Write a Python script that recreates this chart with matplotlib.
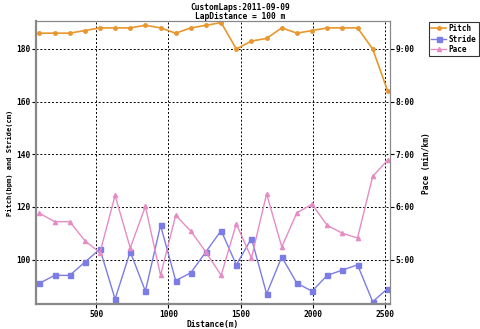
import numpy as np
import matplotlib
matplotlib.use('Agg')
import matplotlib.pyplot as plt

# lap data (24 laps of ~105 m)
distance = [106, 211, 316, 420, 525, 630, 735, 840, 945, 1050, 1155, 1260,
            1365, 1470, 1575, 1680, 1785, 1890, 1995, 2100, 2205, 2310, 2415, 2519]
pitch = [186, 186, 186, 187, 188, 188, 188, 189, 188, 186, 188, 189,
         190, 180, 183, 184, 188, 186, 187, 188, 188, 188, 180, 164]
stride = [91, 94, 94, 99, 104, 85, 103, 88, 113, 92, 95, 103,
          111, 98, 108, 87, 101, 91, 88, 94, 96, 98, 84, 89]
# pace in min/km (decimal minutes)
pace = [5.88, 5.72, 5.72, 5.36, 5.13, 6.22, 5.22, 6.01, 4.70, 5.84, 5.54, 5.14,
        4.70, 5.68, 5.03, 6.25, 5.24, 5.89, 6.05, 5.65, 5.50, 5.41, 6.58, 6.89]

left_ticks = [100, 120, 140, 160, 180]
pace_ticks = [5, 6, 7, 8, 9]
pace_labels = ['5:00', '6:00', '7:00', '8:00', '9:00']
x_ticks = [500, 1000, 1500, 2000, 2500]

font = {'family': 'DejaVu Sans Mono', 'weight': 'bold'}
c_pitch = '#e8962e'
c_stride = '#7c7ce6'
c_pace = '#e68cc4'

fig = plt.figure(figsize=(4.8, 3.29), dpi=100)
ax = fig.add_axes([0.075, 0.075, 0.7375, 0.861])
ax2 = ax.twinx()

# left axis: pitch & stride
l1, = ax.plot(distance, pitch, color=c_pitch, marker='o', markersize=2.5, linewidth=1.2, label='Pitch')
l2, = ax.plot(distance, stride, color=c_stride, marker='s', markersize=3.6, linewidth=1.0, label='Stride')
# right axis: pace, scaled so 5:00 lines up with 100 and 9:00 with 180
ylo, yhi = 83, 190.6
ax.set_ylim(ylo, yhi)
ax2.set_ylim(5 + (ylo - 100) / 20, 5 + (yhi - 100) / 20)
l3, = ax2.plot(distance, pace, color=c_pace, marker='^', markersize=3, linewidth=1.0, label='Pace')

ax.set_xlim(82, 2535)
ax.set_xticks(x_ticks)
ax.set_xticklabels([str(t) for t in x_ticks], fontdict=font, fontsize=5.7)
ax.set_yticks(left_ticks)
ax.set_yticklabels([str(t) for t in left_ticks], fontdict=font, fontsize=5.7)
ax2.set_yticks(pace_ticks)
ax2.set_yticklabels(pace_labels, fontdict=font, fontsize=5.7)
ax.tick_params(length=3, width=0.8, pad=1)
ax2.tick_params(length=3, width=0.8, pad=1)

ax.grid(color='black', linestyle=(0, (2, 2)), linewidth=0.7)
ax.set_axisbelow(True)

for name in ['left', 'bottom']:
    ax.spines[name].set_color('#888888')
    ax.spines[name].set_linewidth(1.6)
for name in ['top', 'right']:
    ax.spines[name].set_color('#888888')
    ax.spines[name].set_linewidth(0.8)
    ax2.spines[name].set_color('#888888')
    ax2.spines[name].set_linewidth(0.8)
ax2.spines['left'].set_visible(False)
ax2.spines['bottom'].set_visible(False)

ax.set_xlabel('Distance(m)', fontdict=font, fontsize=5.7, labelpad=1)
ax.set_ylabel('Pitch(bpm) and Stride(cm)', fontdict=font, fontsize=5, labelpad=2)
ax2.set_ylabel('Pace (min/km)', fontdict=font, fontsize=5.7, labelpad=5)

fig.text(0.5, 0.992, 'CustomLaps:2011-09-09', ha='center', va='top', fontdict=font, fontsize=5.7)
fig.text(0.5, 0.965, 'LapDistance = 100 m', ha='center', va='top', fontdict=font, fontsize=5.7)

leg = fig.legend([l1, l2, l3], ['Pitch', 'Stride', 'Pace'], loc='upper left',
                 bbox_to_anchor=(0.893, 0.934), prop={'family': 'DejaVu Sans Mono', 'weight': 'bold', 'size': 5.5},
                 frameon=True, fancybox=False, edgecolor='black', handlelength=2.0,
                 handletextpad=0.3, borderpad=0.3, labelspacing=0.2, borderaxespad=0)
leg.get_frame().set_linewidth(0.8)

fig.savefig('out.png', dpi=100)
